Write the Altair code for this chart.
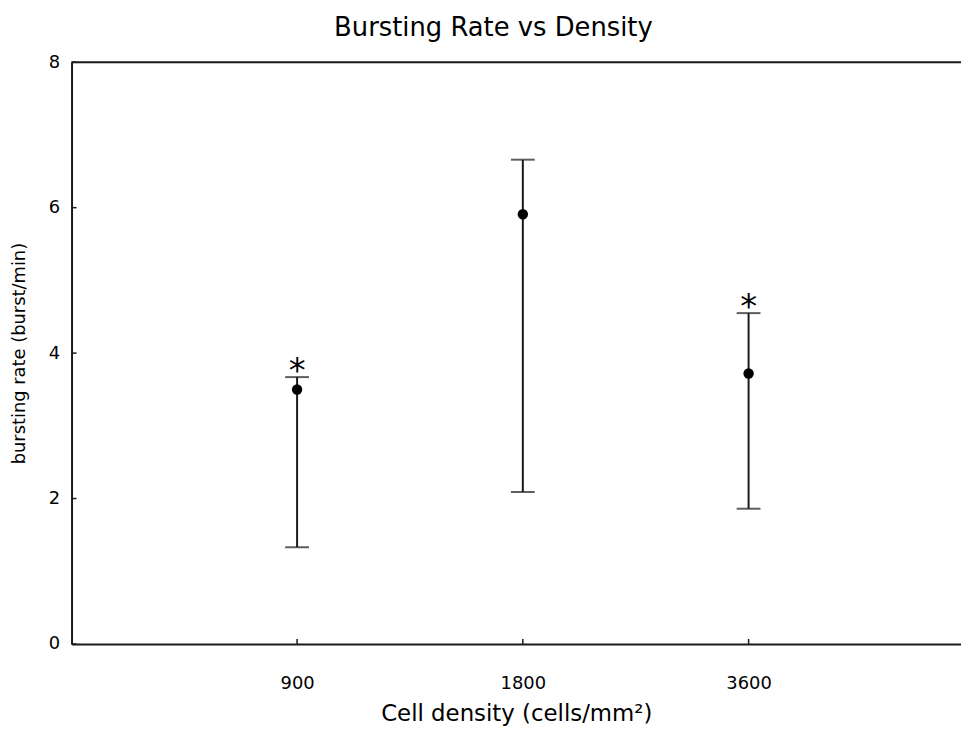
import altair as alt
import pandas as pd

density = ["900", "1800", "3600"]
mean_rate = [3.50, 5.91, 3.72]
upper_rate = [3.67, 6.66, 4.55]
lower_rate = [1.33, 2.09, 1.86]
significant = ["*", "", "*"]
y_ticks = [0, 2, 4, 6, 8]

df = pd.DataFrame({"density": density, "mean": mean_rate, "upper": upper_rate,
                   "lower": lower_rate, "sig": significant})
ticks_df = pd.DataFrame({"v": y_ticks})
top_df = pd.DataFrame({"v": [y_ticks[-1]]})

FONT = "DejaVu Sans"
INK = "#1a1a1a"
W, H = 896, 586

x_axis = alt.Axis(title="Cell density (cells/mm²)", labelAngle=0, ticks=False, grid=False,
                  domainColor=INK, domainWidth=2, labelFont=FONT, labelFontSize=18,
                  labelColor="black", labelPadding=31, labelBaseline="top",
                  titleFont=FONT, titleFontSize=23, titleFontWeight="normal",
                  titleColor="black", titlePadding=10)
y_axis = alt.Axis(title="bursting rate (burst/min)", values=y_ticks, ticks=False, grid=False,
                  domainColor=INK, domainWidth=2, labelFont=FONT, labelFontSize=18,
                  labelColor="black", labelPadding=12, titleFont=FONT, titleFontSize=18,
                  titleFontWeight="normal", titleColor="black", titlePadding=20)


def x_enc():
    return alt.X("density:O", sort=density,
                 scale=alt.Scale(type="point", padding=0.97, align=0.515), axis=x_axis)


def y_enc(field):
    return alt.Y(field, scale=alt.Scale(domain=[0, 8], nice=False), axis=y_axis)


base = alt.Chart(df)

bars = base.mark_rule(color=INK, strokeWidth=2).encode(x=x_enc(), y=y_enc("lower:Q"), y2="upper:Q")
cap_top = base.mark_tick(color=INK, size=24, thickness=2).encode(x=x_enc(), y=y_enc("upper:Q"))
cap_bot = base.mark_tick(color=INK, size=24, thickness=2).encode(x=x_enc(), y=y_enc("lower:Q"))
dots = base.mark_circle(color="black", size=110, opacity=1).encode(x=x_enc(), y=y_enc("mean:Q"))
stars = base.mark_text(font=FONT, fontSize=34, baseline="alphabetic", dy=5, color="black").encode(
    x=x_enc(), y=y_enc("upper:Q"), text="sig:N")

top_border = alt.Chart(top_df).mark_rule(color=INK, strokeWidth=2).encode(y=y_enc("v:Q"))
y_tick_marks = alt.Chart(ticks_df).mark_rule(color=INK, strokeWidth=1.5).encode(
    y=y_enc("v:Q"), x=alt.value(0), x2=alt.value(5))
x_tick_marks = base.mark_rule(color=INK, strokeWidth=1.5).encode(
    x=x_enc(), y=alt.value(H), y2=alt.value(H - 5))

chart = alt.layer(top_border, y_tick_marks, x_tick_marks, bars, cap_top, cap_bot, dots, stars).properties(
    width=W, height=H,
    title=alt.TitleParams("Bursting Rate vs Density", font=FONT, fontSize=26, fontWeight="normal",
                          color="black", anchor="middle", dx=-23, offset=12),
    autosize=alt.AutoSizeParams(type="none"),
    padding={"left": 64, "top": 52, "right": 0, "bottom": 80},
).configure_view(stroke=None).configure(background="white")

chart.save("out.html", embed_options={"renderer": "svg", "actions": False})
